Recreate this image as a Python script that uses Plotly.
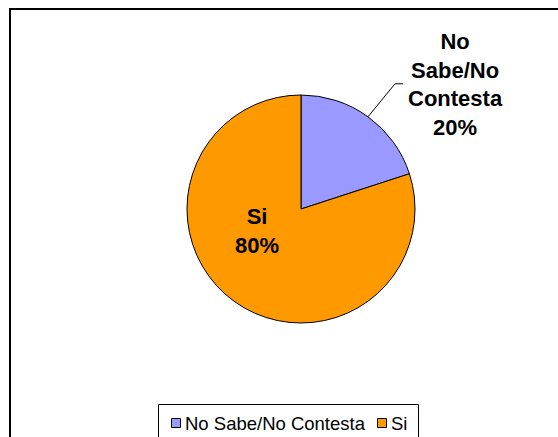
import math
import plotly.graph_objects as go

# Survey answers
labels = ["No Sabe/No Contesta", "Si"]
values = [20, 80]
colors = ["#9999FF", "#FF9900"]

W, H = 558, 437
FONT = "Arial, Liberation Sans, sans-serif"

# pie geometry in pixels
cx, cy, r = 301, 209, 114


def px(x):
    return x / W


def py(y):
    return 1 - y / H


total = sum(values)
pct = [round(100 * v / total) for v in values]

fig = go.Figure(
    go.Pie(
        labels=labels,
        values=values,
        sort=False,
        direction="clockwise",
        rotation=0,
        marker=dict(colors=colors, line=dict(color="black", width=1)),
        textinfo="none",
        hoverinfo="label+percent",
        domain=dict(x=[px(cx - r), px(cx + r)], y=[py(cy + r), py(cy - r)]),
        showlegend=False,
    )
)

# leader line for the small slice, starting at its mid-angle on the rim
mid = 2 * math.pi * (values[0] / 2) / total
ex, ey = cx + r * math.sin(mid), cy - r * math.cos(mid)
kx, ky = ex + 27, ey - 33
hx = kx + 8
fig.add_shape(
    type="path",
    xref="paper",
    yref="paper",
    path=f"M {px(ex)},{py(ey)} L {px(kx)},{py(ky)} L {px(hx)},{py(ky)}",
    line=dict(color="black", width=1),
)

label_font = dict(family=FONT, size=22, color="black")
fig.add_annotation(
    x=px(455), y=py(84), xref="paper", yref="paper",
    xanchor="center", yanchor="middle",
    text="<b>No<br>Sabe/No<br>Contesta<br>%d%%</b>" % pct[0],
    showarrow=False, align="center", font=label_font,
)
fig.add_annotation(
    x=px(257), y=py(231), xref="paper", yref="paper",
    xanchor="center", yanchor="middle",
    text="<b>%s<br>%d%%</b>" % (labels[1], pct[1]),
    showarrow=False, align="center", font=label_font,
)

# outer chart frame (runs past the right and bottom edges)
fig.add_shape(
    type="rect", xref="paper", yref="paper",
    x0=px(10), x1=px(W + 20), y0=py(9), y1=py(H + 20),
    line=dict(color="black", width=2),
)

# legend box with a swatch and name per slice
fig.add_shape(
    type="rect", xref="paper", yref="paper",
    x0=px(158.5), x1=px(418.5), y0=py(404.5), y1=py(H + 10),
    line=dict(color="black", width=1), fillcolor="white", layer="below",
)
legend_items_x = [171, 377]
for name, color, lx in zip(labels, colors, legend_items_x):
    fig.add_shape(
        type="rect", xref="paper", yref="paper",
        x0=px(lx + 0.5), x1=px(lx + 9.5), y0=py(418.5), y1=py(427.5),
        line=dict(color="black", width=1), fillcolor=color,
    )
    fig.add_annotation(
        x=px(lx + 12), y=py(423.5), xref="paper", yref="paper",
        xanchor="left", yanchor="middle",
        text=name, showarrow=False,
        font=dict(family=FONT, size=18.5, color="black"),
    )

fig.update_layout(
    width=W,
    height=H,
    margin=dict(l=0, r=0, t=0, b=0),
    paper_bgcolor="white",
    plot_bgcolor="white",
    font=dict(family=FONT, size=18, color="black"),
    showlegend=False,
)

fig.write_html("out.html")
